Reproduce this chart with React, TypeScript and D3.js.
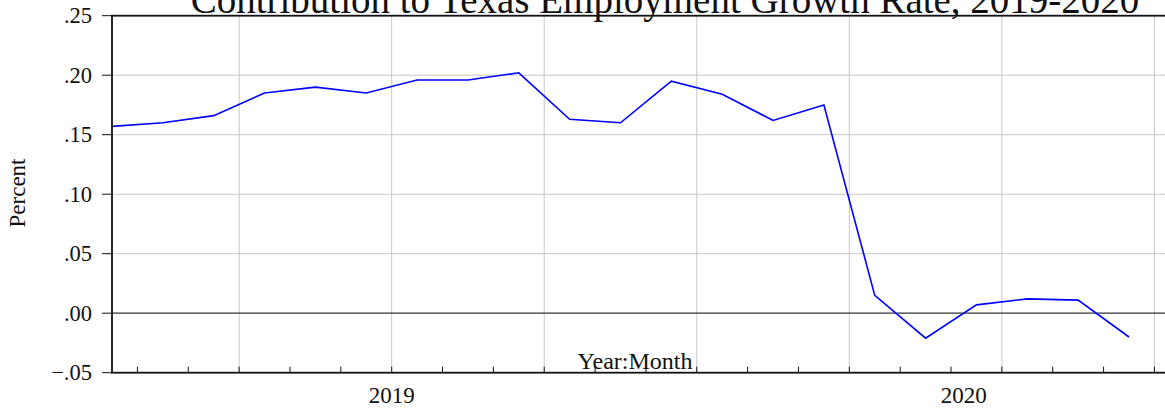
import React, { useEffect, useRef } from "react";
import * as d3 from "d3";

const months = [
  "2019M01", "2019M02", "2019M03", "2019M04", "2019M05", "2019M06",
  "2019M07", "2019M08", "2019M09", "2019M10", "2019M11", "2019M12",
  "2020M01", "2020M02", "2020M03", "2020M04", "2020M05", "2020M06",
  "2020M07", "2020M08", "2020M09",
];

const contribution = [
  0.157, 0.160, 0.166, 0.185, 0.190, 0.185, 0.196, 0.196, 0.202, 0.163,
  0.160, 0.195, 0.184, 0.162, 0.175, 0.015, -0.021, 0.007, 0.012, 0.011,
  -0.020,
];

const years = ["2019", "2020"];
const yTicks = [-0.05, 0, 0.05, 0.1, 0.15, 0.2, 0.25];

const W = 1165;
const H = 411;
const FONT = "'Liberation Serif', 'Times New Roman', serif";

const App = () => {
  const svgRef = useRef(null);

  useEffect(() => {
    const svg = d3.select(svgRef.current);
    svg.selectAll("*").remove();

    const left = 112;
    const top = 15.7;
    const bottom = 372.7;
    const step = 50.85;
    const xMax = 21.5;

    const x = d3.scaleLinear().domain([0, xMax]).range([left, left + xMax * step]);
    const y = d3.scaleLinear().domain([-0.05, 0.25]).range([bottom, top]);
    const right = x(xMax);

    const fmt = (v) => d3.format(".2f")(v).replace("0.", ".");

    // month boundaries (between observations)
    const bounds = d3.range(0, Math.floor(xMax)).map((i) => i + 0.5);
    const quarterBounds = bounds.filter((b) => (b + 0.5) % 3 === 0);

    // grid
    svg
      .append("g")
      .selectAll("line")
      .data(quarterBounds)
      .enter()
      .append("line")
      .attr("x1", (d) => x(d))
      .attr("x2", (d) => x(d))
      .attr("y1", top)
      .attr("y2", bottom)
      .attr("stroke", "#c8c8c8")
      .attr("stroke-width", 1);

    svg
      .append("g")
      .selectAll("line")
      .data(yTicks.filter((t) => t !== 0 && t !== -0.05 && t !== 0.25))
      .enter()
      .append("line")
      .attr("x1", left)
      .attr("x2", right)
      .attr("y1", (d) => y(d))
      .attr("y2", (d) => y(d))
      .attr("stroke", "#c8c8c8")
      .attr("stroke-width", 1);

    // zero line
    svg
      .append("line")
      .attr("x1", left)
      .attr("x2", right)
      .attr("y1", y(0))
      .attr("y2", y(0))
      .attr("stroke", "#333")
      .attr("stroke-width", 1.2);

    // series
    const line = d3
      .line()
      .x((d, i) => x(i))
      .y((d) => y(d));

    svg
      .append("path")
      .datum(contribution)
      .attr("d", line)
      .attr("fill", "none")
      .attr("stroke", "#0000ff")
      .attr("stroke-width", 1.6);

    // frame
    svg
      .append("rect")
      .attr("x", left)
      .attr("y", top)
      .attr("width", right - left)
      .attr("height", bottom - top)
      .attr("fill", "none")
      .attr("stroke", "#111")
      .attr("stroke-width", 1.8);

    // y ticks and labels
    const yAxis = svg.append("g");
    yAxis
      .selectAll("line")
      .data(yTicks)
      .enter()
      .append("line")
      .attr("x1", left - 10)
      .attr("x2", left)
      .attr("y1", (d) => y(d))
      .attr("y2", (d) => y(d))
      .attr("stroke", "#111")
      .attr("stroke-width", 1);
    yAxis
      .selectAll("text")
      .data(yTicks)
      .enter()
      .append("text")
      .attr("x", left - 20)
      .attr("y", (d) => y(d))
      .attr("dy", "0.33em")
      .attr("text-anchor", "end")
      .attr("font-family", FONT)
      .attr("font-size", 22.5)
      .attr("fill", "#111")
      .text((d) => fmt(d));

    // year labels, centred on each year's observations
    svg
      .append("g")
      .selectAll("text")
      .data(years)
      .enter()
      .append("text")
      .attr("x", (yr) => {
        const idx = months
          .map((m, i) => (m.startsWith(yr) ? i : -1))
          .filter((i) => i >= 0);
        const first = idx[0];
        const last = Math.min(first + 11, xMax);
        return x((first + last) / 2);
      })
      .attr("y", 403)
      .attr("text-anchor", "middle")
      .attr("font-family", FONT)
      .attr("font-size", 23)
      .attr("fill", "#111")
      .text((d) => d);

    // axis titles
    svg
      .append("text")
      .attr("x", 635)
      .attr("y", 369)
      .attr("text-anchor", "middle")
      .attr("font-family", FONT)
      .attr("font-size", 24)
      .attr("fill", "#111")
      .text("Year:Month");

    svg
      .append("text")
      .attr("transform", "translate(25, 193) rotate(-90)")
      .attr("text-anchor", "middle")
      .attr("font-family", FONT)
      .attr("font-size", 23)
      .attr("fill", "#111")
      .text("Percent");

    // title sits partly above the page edge, as in the source
    svg
      .append("text")
      .attr("x", 665)
      .attr("y", 13)
      .attr("text-anchor", "middle")
      .attr("font-family", FONT)
      .attr("font-size", 39)
      .attr("fill", "#111")
      .text("Contribution to Texas Employment Growth Rate, 2019-2020");

    // minor month ticks on the x axis
    svg
      .append("g")
      .selectAll("line")
      .data(bounds)
      .enter()
      .append("line")
      .attr("x1", (d) => x(d))
      .attr("x2", (d) => x(d))
      .attr("y1", bottom - 6)
      .attr("y2", bottom)
      .attr("stroke", "#111")
      .attr("stroke-width", 1);
  }, []);

  return (
    <svg
      ref={svgRef}
      width={W}
      height={H}
      style={{ position: "absolute", left: 0, top: 0, background: "#fff" }}
    ></svg>
  );
};

export default App;
